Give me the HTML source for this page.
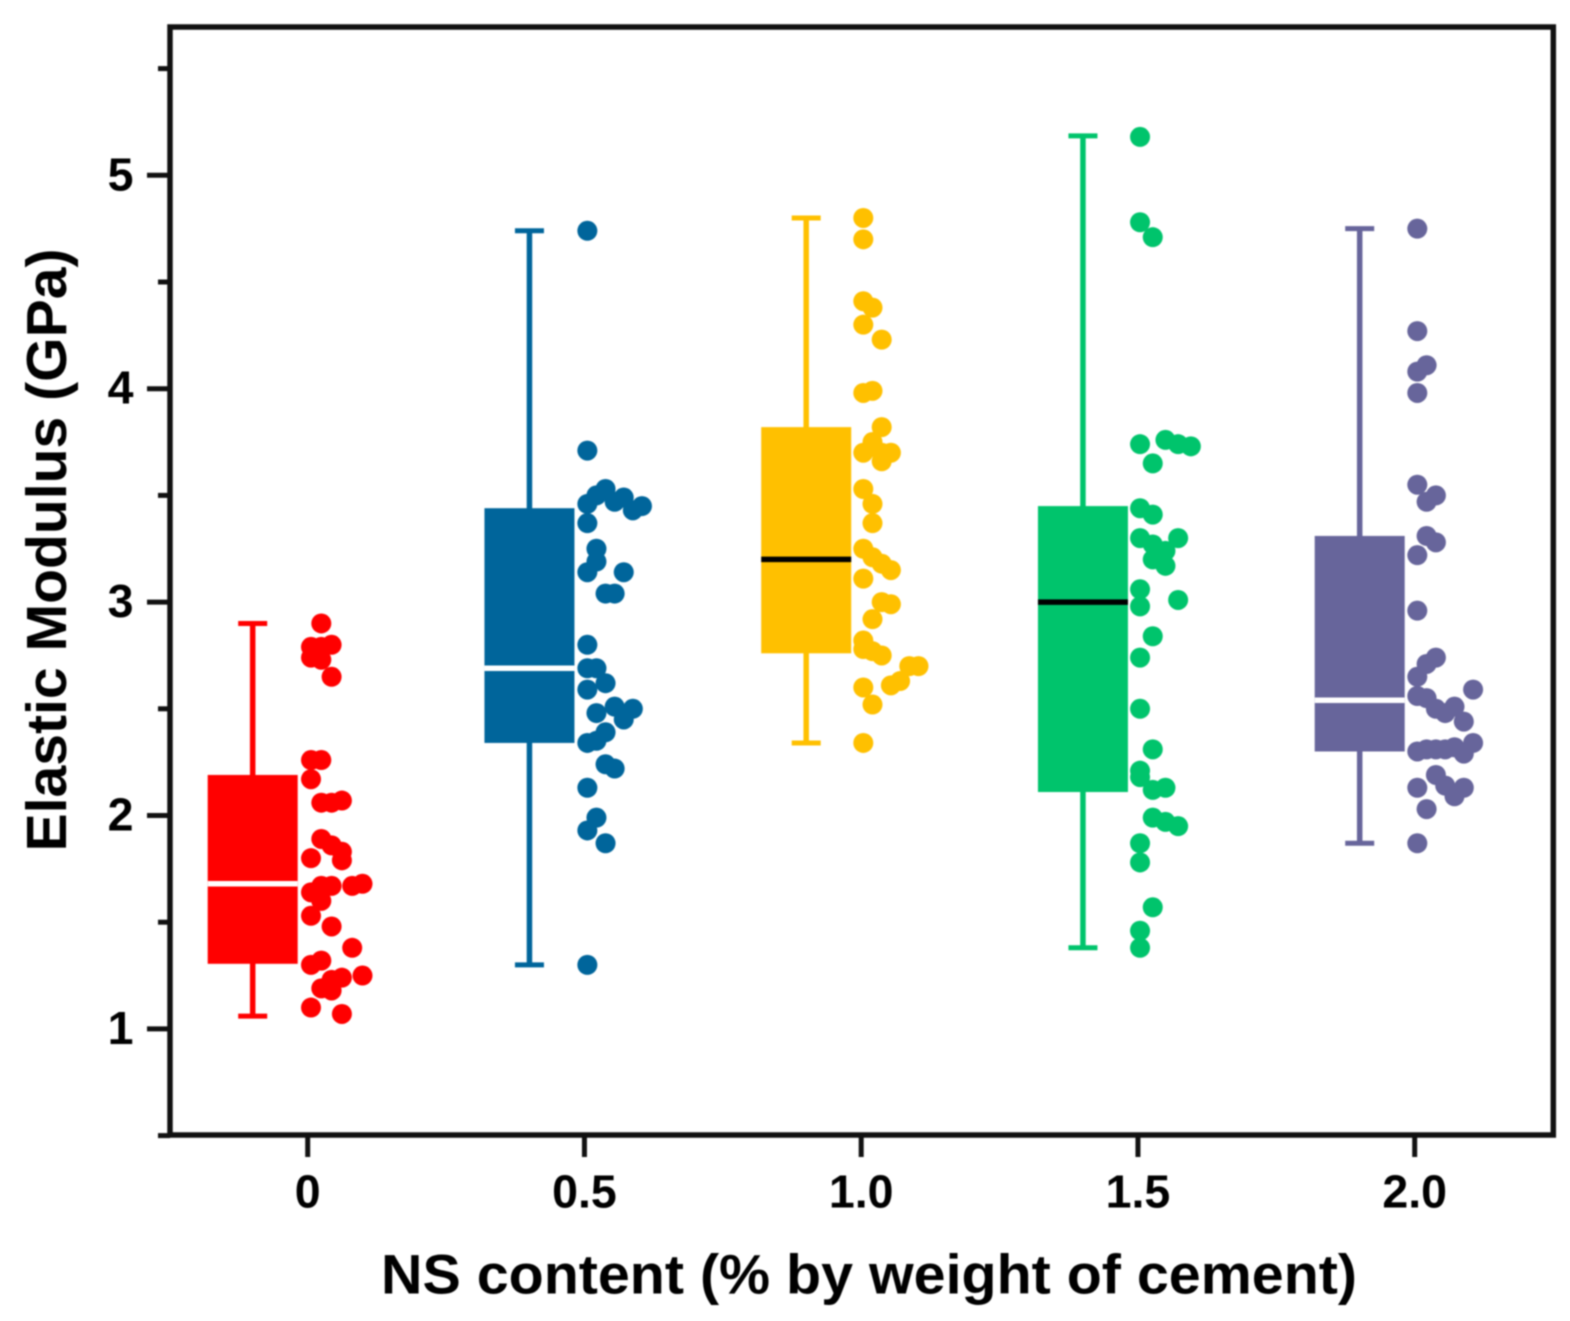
<!DOCTYPE html>
<html lang="en">
<head>
<meta charset="utf-8">
<title>Elastic Modulus vs NS content</title>
<style>
html,body{margin:0;padding:0;background:#fff;}
#chart{display:block;width:1570px;height:1321px;filter:blur(0.85px);}
text{font-family:"Liberation Sans",Arial,sans-serif;font-weight:bold;fill:#000;}
</style>
</head>
<body>
<svg id="chart" xmlns="http://www.w3.org/2000/svg" width="1570" height="1321" viewBox="0 0 1570 1321">
  <rect x="0" y="0" width="1570" height="1321" fill="#ffffff"/>
  <g id="marks"></g>
  <rect x="170" y="27" width="1383.3" height="1108" fill="none" stroke="#111" stroke-width="5.5"/>
  <g id="axes"></g>
  <text x="381" y="1293.5" font-size="56" textLength="976" lengthAdjust="spacingAndGlyphs">NS content (% by weight of cement)</text>
  <text transform="translate(66 851.5) rotate(-90)" x="0" y="0" font-size="57" textLength="603" lengthAdjust="spacingAndGlyphs">Elastic Modulus (GPa)</text>
</svg>
<script>
const categories = [0, 0.5, 1.0, 1.5, 2.0];
const categoryLabels = ["0", "0.5", "1.0", "1.5", "2.0"];
const yMajorTicks = [1, 2, 3, 4, 5];
const yMinorTicks = [0.5, 1.5, 2.5, 3.5, 4.5, 5.5];
const whiskerLow = [1.06, 1.30, 2.34, 1.38, 1.87];
const boxQ1 = [1.305, 2.34, 2.76, 2.11, 2.30];
const boxMedian = [1.68, 2.69, 3.20, 3.00, 2.54];
const boxQ3 = [2.19, 3.44, 3.82, 3.45, 3.31];
const whiskerHigh = [2.90, 4.74, 4.80, 5.185, 4.75];

const values0 = [2.90,2.79,2.79,2.80,2.74,2.73,2.65,2.26,2.26,2.17,2.06,2.06,2.07,1.89,1.86,1.83,1.79,1.80,1.68,1.67,1.67,1.67,1.64,1.60,1.53,1.48,1.38,1.32,1.30,1.25,1.24,1.23,1.19,1.18,1.10,1.07];
const jitter0 = [1,0,1,2,0,1,2,0,1,0,1,2,3,1,2,3,3,0,5,4,2,1,0,1,0,2,4,1,0,5,3,2,1,2,0,3];

const values1 = [4.74,3.71,3.53,3.50,3.49,3.47,3.46,3.45,3.43,3.37,3.25,3.19,3.14,3.14,3.04,3.04,2.80,2.69,2.69,2.62,2.59,2.51,2.50,2.48,2.45,2.39,2.35,2.34,2.24,2.22,2.13,1.99,1.93,1.87,1.30];
const jitter1 = [0,0,2,1,4,3,0,6,5,0,1,1,0,4,2,3,0,0,1,2,0,3,5,1,4,2,1,0,2,3,0,1,0,2,0];

const values2 = [4.80,4.70,4.41,4.38,4.30,4.23,3.99,3.98,3.82,3.75,3.70,3.70,3.70,3.66,3.53,3.46,3.37,3.25,3.21,3.18,3.15,3.11,3.00,2.99,2.92,2.82,2.78,2.77,2.75,2.70,2.70,2.63,2.61,2.60,2.52,2.34];
const jitter2 = [0,0,0,1,0,2,1,0,2,1,0,3,2,2,0,1,1,0,1,2,3,0,2,3,1,0,0,1,2,5,6,4,3,0,1,0];

const values3 = [5.18,4.78,4.71,3.74,3.76,3.74,3.73,3.65,3.44,3.41,3.30,3.27,3.30,3.24,3.20,3.17,3.06,2.98,3.01,2.84,2.74,2.50,2.31,2.21,2.18,2.12,2.13,1.99,1.97,1.95,1.87,1.78,1.57,1.46,1.38];
const jitter3 = [0,0,1,0,2,3,4,1,0,1,0,1,3,2,1,2,0,0,3,1,0,0,1,0,0,1,2,1,2,3,0,0,1,0,0];

const values4 = [4.75,4.27,4.11,4.08,3.98,3.55,3.50,3.47,3.31,3.28,3.22,2.96,2.74,2.71,2.65,2.59,2.56,2.55,2.50,2.51,2.48,2.44,2.34,2.30,2.31,2.31,2.31,2.32,2.29,2.19,2.14,2.13,2.13,2.09,2.03,1.87];
const jitter4 = [0,0,1,0,0,0,2,1,1,2,0,0,2,1,0,6,0,1,2,4,3,5,6,0,1,2,3,4,5,2,3,0,5,4,1,0];

const seriesValues = [values0, values1, values2, values3, values4];
const seriesJitter = [jitter0, jitter1, jitter2, jitter3, jitter4];

const seriesNames = ["ns-0", "ns-0-5", "ns-1-0", "ns-1-5", "ns-2-0"];
const seriesColors = ["#ff0000", "#00659b", "#ffc000", "#00c46c", "#67659b"];
const medianColors = ["#ffffff", "#ffffff", "#000000", "#000000", "#ffffff"];
const jitterBase = [3.3, 2.9, 2.1, 2.1, 2.6];
const jitterStep = [10.3, 9.1, 9.2, 12.7, 9.3];

const SVG_NS = "http://www.w3.org/2000/svg";
const marks = document.getElementById("marks");
const axes = document.getElementById("axes");

function xScale(c) { return 307.7 + c * 553.5; }
function yScale(v) { return 175.3 + (5 - v) * 213.4; }

function make(tag, attrs, parent) {
  const el = document.createElementNS(SVG_NS, tag);
  for (const k in attrs) el.setAttribute(k, attrs[k]);
  parent.appendChild(el);
  return el;
}

function drawBox(i) {
  const color = seriesColors[i];
  const cx = xScale(categories[i]) - 55;
  const halfBox = 45;
  const halfCap = 14.5;

  const whisker = make("line", {x1: cx, x2: cx, y1: yScale(whiskerHigh[i]), y2: yScale(whiskerLow[i]), stroke: color, "stroke-width": 5.5}, marks);
  
  

  const capTop = make("line", {x1: cx - halfCap, x2: cx + halfCap, y1: yScale(whiskerHigh[i]), y2: yScale(whiskerHigh[i]), stroke: color, "stroke-width": 5}, marks);
  
  

  const capBottom = make("line", {x1: cx - halfCap, x2: cx + halfCap, y1: yScale(whiskerLow[i]), y2: yScale(whiskerLow[i]), stroke: color, "stroke-width": 5}, marks);
  
  

  const box = make("rect", {x: cx - halfBox, width: halfBox * 2, y: yScale(boxQ3[i]), height: yScale(boxQ1[i]) - yScale(boxQ3[i]), fill: color}, marks);
  
  

  const median = make("line", {x1: cx - halfBox, x2: cx + halfBox, y1: yScale(boxMedian[i]), y2: yScale(boxMedian[i]), stroke: medianColors[i], "stroke-width": 5.5}, marks);
  
  
}

function drawPoints(i) {
  const values = seriesValues[i];
  const jitter = seriesJitter[i];
  const group = make("g", {fill: seriesColors[i]}, marks);
  
  
  values.forEach(function (v, k) {
    const dot = make("circle", {cx: xScale(categories[i]) + jitterBase[i] + jitter[k] * jitterStep[i], cy: yScale(v), r: 10}, group);
    
    
  });
}

function drawAxes() {
  yMajorTicks.forEach(function (t) {
    const tick = make("line", {x1: 147, x2: 170, y1: yScale(t), y2: yScale(t), stroke: "#111", "stroke-width": 5}, axes);
    
    
    const label = make("text", {x: 133.5, y: yScale(t) + 15, "font-size": 46.5, "text-anchor": "end"}, axes);
    label.textContent = String(t);
    
    
  });
  yMinorTicks.forEach(function (t) {
    const tick = make("line", {x1: 158, x2: 170, y1: yScale(t), y2: yScale(t), stroke: "#111", "stroke-width": 5}, axes);
    
    
  });
  categories.forEach(function (c, i) {
    const tick = make("line", {x1: xScale(c), x2: xScale(c), y1: 1135, y2: 1157, stroke: "#111", "stroke-width": 5}, axes);
    
    
    const label = make("text", {x: xScale(c), y: 1207.5, "font-size": 46.5, "text-anchor": "middle"}, axes);
    label.textContent = categoryLabels[i];
    
    
  });
}

categories.forEach(function (c, i) {
  drawBox(i);
  drawPoints(i);
});
drawAxes();
</script>
</body>
</html>
